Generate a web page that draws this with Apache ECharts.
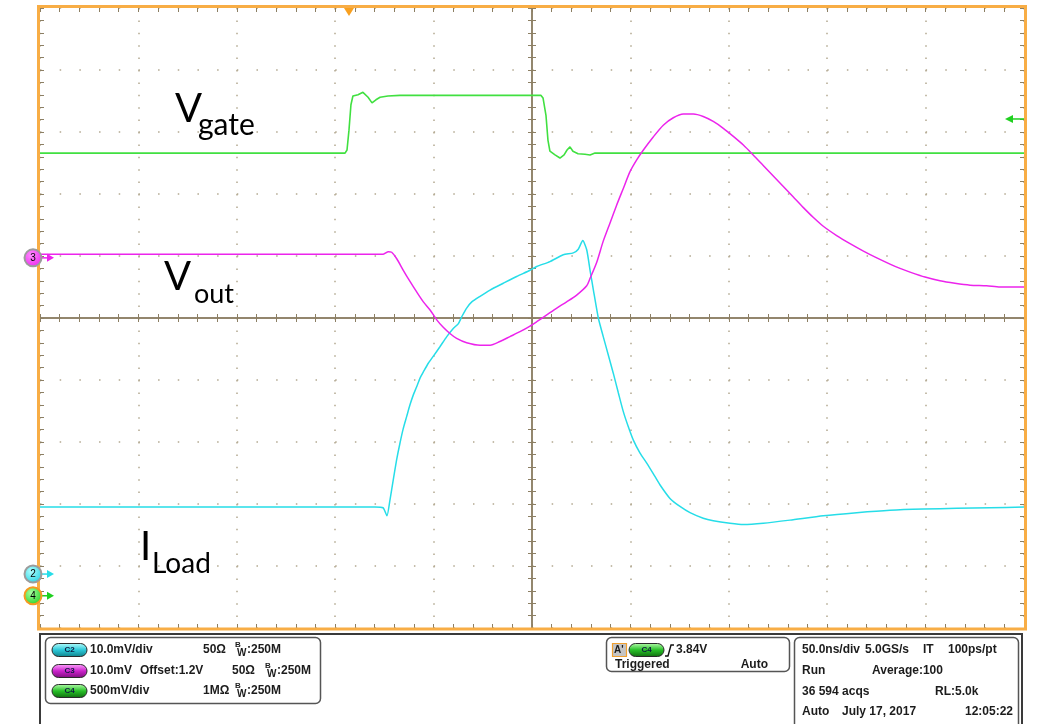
<!DOCTYPE html>
<html><head><meta charset="utf-8">
<script src="https://cdn.jsdelivr.net/npm/echarts@6/dist/echarts.min.js"></script>
<style>html,body{margin:0;padding:0;background:#fff}#c{width:1038px;height:724px}</style>
</head><body><div id="c"></div>
<script>
// Time axis in ns (50 ns/div), vertical values in screen divisions from centre
const xTicks = {min: -250, max: 250, interval: 50};
const yTicks = {min: -5, max: 5, interval: 1};

const vgateT = [-250,-95,-94,-93,-92,-91,-88.4,-85.9,-83.3,-81.3,-79.3,-77.2,-73.2,-67.1,-31.5,4.6,5.6,7.1,8.1,9.1,11.7,14.2,16.3,17.8,19.3,20.8,23.4,26.9,29.5,32,250];
const vgateV = [2.66,2.66,2.71,3.03,3.44,3.58,3.60,3.64,3.56,3.47,3.52,3.56,3.58,3.59,3.59,3.59,3.55,3.27,2.87,2.69,2.63,2.58,2.63,2.71,2.76,2.69,2.65,2.64,2.63,2.66,2.66];

const voutT = [-250,-82.3,-75.6,-73.0,-71.3,-68.8,-65.4,-62.0,-58.6,-55.2,-51.8,-48.4,-45.1,-41.7,-38.3,-33.2,-26.4,-21.3,-16.3,-11.2,-6.1,-1.0,2.4,7.5,12.6,17.6,22.7,27.8,29.5,32.9,36.2,39.6,43.0,46.4,49.8,53.2,56.6,61.6,66.7,71.8,76.9,82.0,87.0,92.1,97.2,102.3,107.4,112.4,117.5,122.6,127.7,132.8,137.9,143.0,148.0,154.8,161.6,168.4,175.2,181.9,187.0,192.1,199.7,207.3,214.9,222.6,231.0,237.8,250];
const voutV = [1.03,1.03,1.03,1.07,1.06,0.96,0.77,0.59,0.42,0.26,0.13,-0.03,-0.15,-0.25,-0.33,-0.40,-0.44,-0.44,-0.38,-0.30,-0.22,-0.13,-0.06,0.05,0.16,0.26,0.37,0.52,0.64,0.90,1.24,1.53,1.82,2.09,2.36,2.55,2.71,2.92,3.11,3.23,3.29,3.29,3.25,3.17,3.06,2.93,2.79,2.63,2.46,2.29,2.12,1.95,1.78,1.62,1.48,1.33,1.20,1.08,0.97,0.87,0.80,0.74,0.66,0.60,0.56,0.53,0.52,0.50,0.50];

const iloadT = [-250,-79.8,-75.7,-73.7,-72.2,-70.5,-68.8,-67.1,-65.4,-63.7,-62.0,-60.3,-58.6,-56.9,-55.2,-52.7,-50.2,-46.7,-43.3,-40.0,-37.4,-35.7,-33.2,-30.6,-26.4,-21.3,-14.6,-7.8,-1.0,2.4,9.1,15.9,21.0,23.5,25.8,27.8,29.5,31.2,33.7,36.2,38.8,41.3,43.9,46.4,48.9,51.5,54.9,58.3,61.6,65.0,70.1,75.2,80.3,87.0,92.1,100.6,107.4,117.5,131.1,148.0,165.0,181.9,198.8,215.8,232.7,250];
const iloadV = [-3.05,-3.05,-3.06,-3.19,-2.94,-2.61,-2.29,-2.02,-1.78,-1.59,-1.40,-1.24,-1.11,-0.97,-0.87,-0.73,-0.62,-0.46,-0.30,-0.17,-0.09,0.02,0.16,0.26,0.35,0.45,0.56,0.67,0.77,0.83,0.91,1.02,1.05,1.11,1.25,1.10,0.77,0.45,0.00,-0.30,-0.60,-0.89,-1.21,-1.51,-1.75,-1.97,-2.18,-2.34,-2.51,-2.69,-2.91,-3.04,-3.14,-3.23,-3.27,-3.31,-3.33,-3.31,-3.26,-3.19,-3.14,-3.10,-3.08,-3.07,-3.06,-3.05];

// channel ground markers (label, level in div), trigger
const markerLabels = ['3','2','4'];
const markerLevels = [0.97,-4.13,-4.48];
const triggerTime = -93;
const triggerLevel = 3.21;

// readout texts
const chRows = [
  ['C2','10.0mV/div','','50\u03a9'],
  ['C3','10.0mV','Offset:1.2V','50\u03a9'],
  ['C4','500mV/div','','1M\u03a9']
];
const timeRows = [
  [['50.0ns/div',802],['5.0GS/s',865],['IT',923],['100ps/pt',948]],
  [['Run',802],['Average:100',872]],
  [['36 594 acqs',802],['RL:5.0k',935]],
  [['Auto',802],['July 17, 2017',842]]
];

const COL_G = '#40e040', COL_M = '#ec24ec', COL_C = '#26dde8';
const LINE = '#8c7f64';
const chart = echarts.init(document.getElementById('c'), null, {renderer: 'canvas'});

function ax(base, gridIndex, position, onZero, showLine, split, dash) {
  return Object.assign({type: 'value', axisLabel: {show: false}}, base, {
    gridIndex, position,
    axisLine: {show: showLine, onZero: onZero, lineStyle: {color: LINE, width: 1.5}},
    axisTick: {show: true, inside: true, length: 4, lineStyle: {color: LINE, width: 1}},
    minorTick: {show: true, splitNumber: 5, length: 4, lineStyle: {color: LINE, width: 1}},
    splitLine: {show: split, lineStyle: {color: '#b2a890', width: 1.5, type: dash || 'solid'}},
    minorSplitLine: {show: false}
  });
}
function pairs(t, v) { return t.map((x, i) => [x, v[i]]); }

const gridBox = {left: 40, top: 8, width: 984, height: 620, outerBoundsMode: 'none', containLabel: false};
chart.setOption({
  animation: false,
  backgroundColor: '#ffffff',
  grid: [Object.assign({}, gridBox), Object.assign({}, gridBox)],
  xAxis: [
    ax(xTicks, 0, 'bottom', true, true, true, [1.5, 10.9]),
    ax(xTicks, 0, 'top', false, false, false),
    ax(xTicks, 1, 'top', true, true, false),
    ax(xTicks, 1, 'bottom', false, false, false)
  ],
  yAxis: [
    ax(yTicks, 0, 'left', true, true, true, [1.5, 18.18]),
    ax(yTicks, 0, 'right', false, false, false),
    ax(yTicks, 1, 'right', true, true, false),
    ax(yTicks, 1, 'left', false, false, false)
  ],
  series: [
    {type: 'line', name: 'Vgate', xAxisIndex: 0, yAxisIndex: 0, data: pairs(vgateT, vgateV), showSymbol: false, silent: true, z: 3, lineStyle: {color: COL_G, width: 1.6}},
    {type: 'line', name: 'ILoad', xAxisIndex: 0, yAxisIndex: 0, data: pairs(iloadT, iloadV), showSymbol: false, silent: true, z: 4, smooth: 0.2, lineStyle: {color: COL_C, width: 1.5}},
    {type: 'line', name: 'Vout', xAxisIndex: 0, yAxisIndex: 0, data: pairs(voutT, voutV), showSymbol: false, silent: true, z: 5, smooth: 0.25, lineStyle: {color: COL_M, width: 1.5}}
  ]
});

const g = [];
const FONT = '"Liberation Sans", Arial, sans-serif';
function txt(x, y, s, size, opts) {
  g.push({type: 'text', x: x, y: y, z: 100, silent: true, style: Object.assign({text: s, fontSize: size, fontFamily: FONT, fontWeight: 'bold', fill: '#1c1c1c', verticalAlign: 'middle', align: 'left'}, opts || {})});
}
function bw(x, y) {
  txt(x, y - 5, 'B', 8);
  txt(x + 2, y + 3, 'W', 10);
  txt(x + 12, y, ':250M', 12);
}
function pill(x, cy, c1, c2, c3, label) {
  g.push({type: 'rect', z: 100, silent: true, shape: {x: x, y: cy - 6.5, width: 35, height: 13, r: 6.5},
    style: {fill: new echarts.graphic.LinearGradient(0, 0, 0, 1, [{offset: 0, color: c1}, {offset: 0.5, color: c2}, {offset: 1, color: c3}]), stroke: '#2a2a2a', lineWidth: 1}});
  txt(x + 17.5, cy, label, 8, {align: 'center', fill: '#0d1a40'});
}
function label(x, y, big, sub, subDx, subDy, subSize) {
  g.push({type: 'text', x: x, y: y, z: 100, silent: true, style: {text: big, fontSize: 40, fontFamily: 'Lato, "Open Sans", sans-serif', fill: '#000', verticalAlign: 'middle'}});
  g.push({type: 'text', x: x + subDx, y: y + subDy, z: 100, silent: true, style: {text: sub, fontSize: subSize, fontFamily: 'Lato, "Open Sans", sans-serif', fill: '#000', verticalAlign: 'middle'}});
}

// plot border (orange)
g.push({type: 'rect', z: 90, silent: true, shape: {x: 38.5, y: 6.5, width: 987, height: 622.5}, style: {fill: null, stroke: '#f8ad45', lineWidth: 3}});

// labels
label(175, 109, 'V', 'gate', 23, 16, 30);
label(164, 277, 'V', 'out', 30, 17, 27);
label(140, 547, 'I', 'Load', 12, 17, 28);

// channel markers
const mFill = {'3': ['#ff8cff', COL_M], '2': ['#b0ffff', '#22d0e0'], '4': ['#a8ffa0', '#20d020']};
const mStroke = {'3': '#9c9c9c', '2': '#9c9c9c', '4': '#f59a20'};
const mArrow = {'3': COL_M, '2': COL_C, '4': '#20d020'};
markerLabels.forEach((lab, i) => {
  const py = chart.convertToPixel({gridIndex: 0}, [0, markerLevels[i]])[1];
  g.push({type: 'line', z: 95, silent: true, shape: {x1: 40, y1: py, x2: 49, y2: py}, style: {stroke: mArrow[lab], lineWidth: 1.5}});
  g.push({type: 'polygon', z: 95, silent: true, shape: {points: [[47, py - 4], [54, py], [47, py + 4]]}, style: {fill: mArrow[lab]}});
  g.push({type: 'circle', z: 96, silent: true, shape: {cx: 33, cy: py, r: 8.5},
    style: {fill: new echarts.graphic.RadialGradient(0.4, 0.35, 0.7, [{offset: 0, color: mFill[lab][0]}, {offset: 1, color: mFill[lab][1]}]), stroke: mStroke[lab], lineWidth: 2}});
  g.push({type: 'text', x: 33, y: py, z: 97, silent: true, style: {text: lab, fontSize: 10, fontFamily: FONT, fill: '#000', align: 'center', verticalAlign: 'middle'}});
});
// trigger position (top) and level (right)
const tx = chart.convertToPixel({gridIndex: 0}, [triggerTime, 0])[0];
g.push({type: 'polygon', z: 95, silent: true, shape: {points: [[tx - 5, 8], [tx + 5, 8], [tx, 16]]}, style: {fill: '#f8a020'}});
const ty = chart.convertToPixel({gridIndex: 0}, [0, triggerLevel])[1];
g.push({type: 'line', z: 95, silent: true, shape: {x1: 1011, y1: ty, x2: 1024, y2: ty}, style: {stroke: '#20d020', lineWidth: 1.5}});
g.push({type: 'polygon', z: 95, silent: true, shape: {points: [[1005, ty], [1013, ty - 4], [1013, ty + 4]]}, style: {fill: '#20d020'}});

// bottom readout frame
g.push({type: 'polyline', z: 80, silent: true, shape: {points: [[40, 724], [40, 634], [1022, 634], [1022, 724]]}, style: {stroke: '#3a3a3a', lineWidth: 2, fill: null}});
[[45.5, 637.5, 275, 66], [606.5, 637.5, 183, 34], [794.5, 637.5, 224, 100]].forEach(b => {
  g.push({type: 'rect', z: 85, silent: true, shape: {x: b[0], y: b[1], width: b[2], height: b[3], r: 5}, style: {fill: '#fff', stroke: '#555', lineWidth: 1.5}});
});
const pillCols = {C2: ['#b8ffff', '#2cc8d8', '#0e7f88'], C3: ['#ffa8ff', '#cc22cc', '#7a0f7a'], C4: ['#b8ffb0', '#28c028', '#0f6a0f']};
const rowY = [650, 671, 691];
chRows.forEach((r, i) => {
  const y = rowY[i];
  const c = pillCols[r[0]];
  pill(52, y, c[0], c[1], c[2], r[0]);
  txt(90, y, r[1], 12);
  if (r[2]) { txt(140, y, r[2], 12); txt(232, y, r[3], 12); bw(265, y); }
  else { txt(203, y, r[3], 12); bw(235, y); }
});
// trigger box
g.push({type: 'rect', z: 100, silent: true, shape: {x: 612.5, y: 643.5, width: 14, height: 13}, style: {fill: '#c4c4c4', stroke: '#f0a030', lineWidth: 1.2}});
txt(614, 650, "A'", 10);
pill(629, 650, pillCols.C4[0], pillCols.C4[1], pillCols.C4[2], 'C4');
g.push({type: 'polyline', z: 100, silent: true, shape: {points: [[665, 656], [668, 656], [671, 645], [674, 645]]}, style: {stroke: '#111', lineWidth: 1.4, fill: null}});
txt(676, 650, '3.84V', 12);
txt(615, 665, 'Triggered', 12);
txt(768, 665, 'Auto', 12, {align: 'right'});
// time base box
const tRowY = [650, 671, 692, 712];
timeRows.forEach((r, i) => r.forEach(c => txt(c[1], tRowY[i], c[0], 12)));
txt(1013, 712, '12:05:22', 12, {align: 'right'});

chart.setOption({graphic: g});
</script>
</body></html>
